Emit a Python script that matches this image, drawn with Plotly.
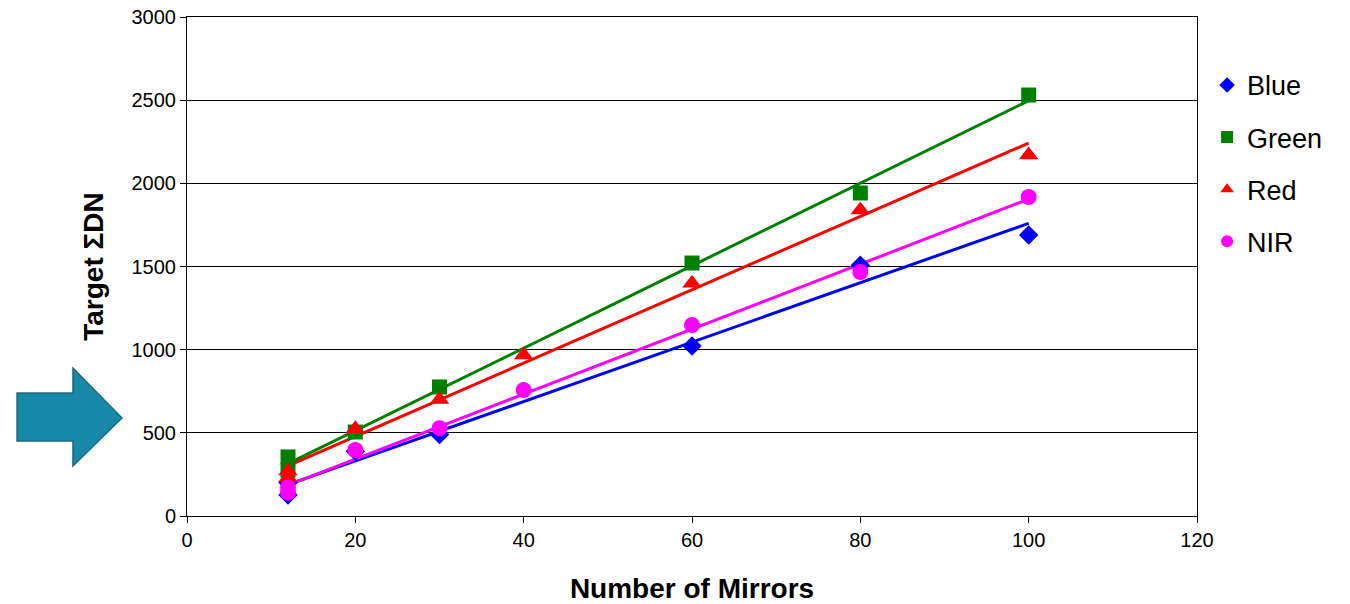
import numpy as np
import plotly.graph_objects as go

# Measured target sums per band vs. number of mirrors
blue_x = [12, 12, 20, 30, 60, 80, 100]
blue_y = [126, 200, 390, 490, 1022, 1507, 1690]

green_x = [12, 12, 20, 30, 60, 80, 100]
green_y = [355, 275, 505, 776, 1521, 1942, 2531]

red_x = [12, 12, 20, 30, 40, 60, 80, 100]
red_y = [270, 230, 525, 700, 968, 1400, 1840, 2170]

nir_x = [12, 12, 20, 30, 40, 60, 80, 100]
nir_y = [172, 140, 397, 528, 757, 1148, 1467, 1918]

series = [
    ("Blue", blue_x, blue_y, "#0000FF", "diamond", 15),
    ("Green", green_x, green_y, "#008000", "square", 15),
    ("Red", red_x, red_y, "#FF0000", "triangle-up", 17),
    ("NIR", nir_x, nir_y, "#FF00FF", "circle", 16),
]

fig = go.Figure()

# Linear trend lines (least squares) over the measured range
for name, xs, ys, color, sym, size in series:
    slope, icpt = np.polyfit(xs, ys, 1)
    xf = np.array([min(xs), max(xs)])
    fig.add_trace(go.Scatter(
        x=xf, y=slope * xf + icpt, mode="lines",
        line=dict(color=color, width=3), showlegend=False, hoverinfo="skip"))

for i, (name, xs, ys, color, sym, size) in enumerate(series):
    fig.add_trace(go.Scatter(
        x=xs, y=ys, mode="markers", name=name, legendgroup=f"g{i}",
        marker=dict(symbol=sym, size=size, color=color, line=dict(width=0))))

L, R, T, B = 187, 153, 17, 88
W, H = 1350, 604
pw, ph = W - L - R, H - T - B

def px(x):
    return (x - L) / pw

def py(y):
    return (H - B - y) / ph

# Pointer arrow to the left of the y axis
pts = [(17, 393), (73, 393), (73, 368), (122, 418), (73, 466), (73, 441), (17, 441)]
path = "M " + " L ".join(f"{px(a):.4f},{py(b):.4f}" for a, b in pts) + " Z"
fig.add_shape(type="path", xref="paper", yref="paper", path=path,
              fillcolor="#1789A8", line=dict(color="#1E6A80", width=1.5))

fig.update_layout(
    width=W, height=H,
    margin=dict(l=L, r=R, t=T, b=B, autoexpand=False),
    paper_bgcolor="white", plot_bgcolor="white",
    font=dict(family="Arial, Liberation Sans, sans-serif", color="black", size=20),
    legend=dict(x=1.01, y=0.912, xanchor="left", yanchor="top",
                font=dict(size=27), tracegroupgap=14, itemsizing="constant",
                itemwidth=30, bgcolor="rgba(0,0,0,0)"),
    xaxis=dict(range=[0, 120], dtick=20, showgrid=False, zeroline=False,
               showline=True, linecolor="black", linewidth=1, mirror=True,
               ticks="outside", ticklen=6, tickcolor="black", automargin=False,
               title=dict(text="<b>Number of Mirrors</b>", font=dict(size=28), standoff=31)),
    yaxis=dict(range=[0, 3000], dtick=500, showgrid=True, gridcolor="black", gridwidth=1,
               zeroline=False, showline=True, linecolor="black", linewidth=1, mirror=True,
               ticks="outside", ticklen=6, tickcolor="black", automargin=False,
               title=dict(text="<b>Target ΣDN</b>", font=dict(size=28), standoff=19)),
)

fig.write_html("out.html")
